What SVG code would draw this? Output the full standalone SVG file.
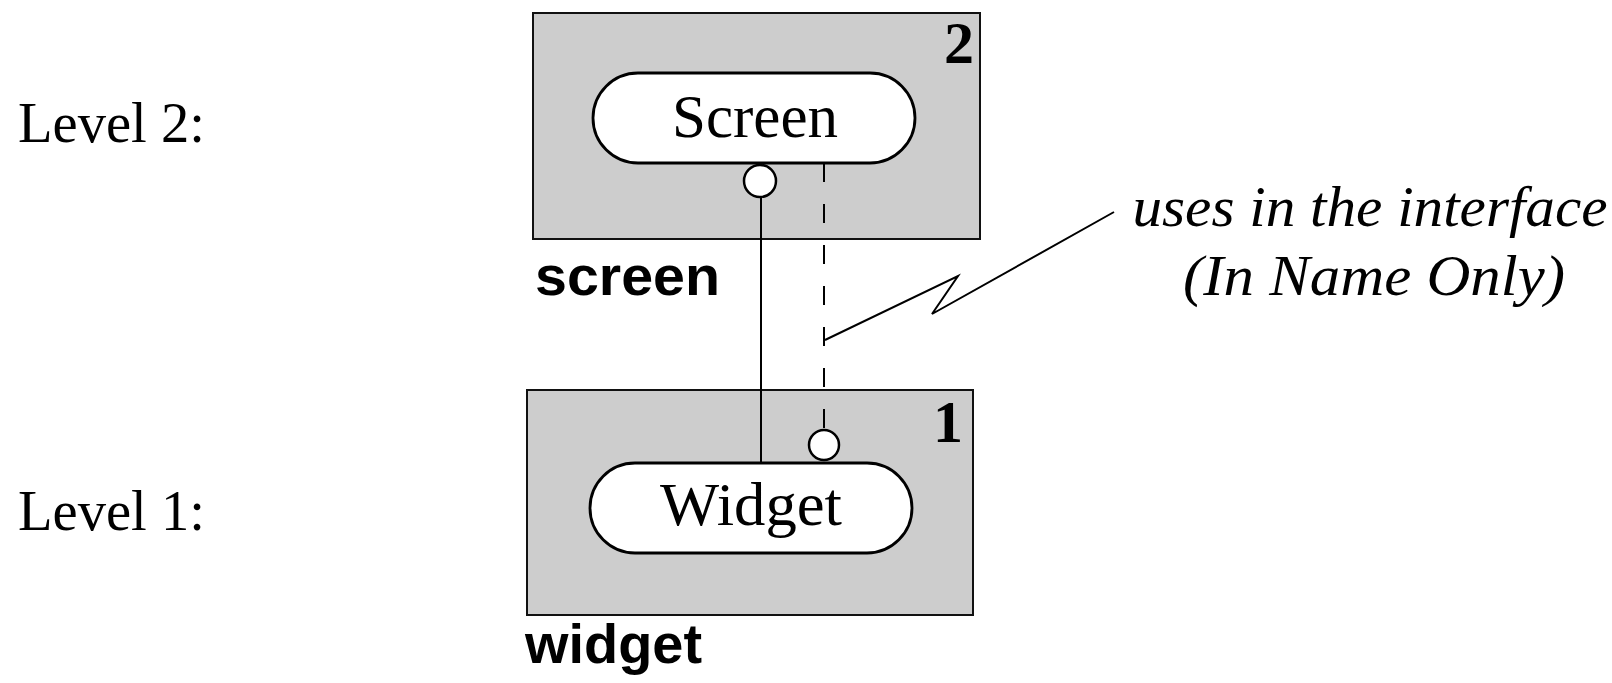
<svg xmlns="http://www.w3.org/2000/svg" width="1612" height="683" viewBox="0 0 1612 683">
<style>
.lvl{font-family:"Liberation Serif",serif;font-size:58px;fill:#000}
.box{fill:#cdcdcd;stroke:#111;stroke-width:2}
.pill{fill:#fff;stroke:#000;stroke-width:2.8}
.cls{font-family:"Liberation Serif",serif;font-size:62px;fill:#000}
.num{font-family:"Liberation Serif",serif;font-size:60px;font-weight:bold;fill:#000}
.pkg{font-family:"Liberation Sans",Arial,sans-serif;font-size:56px;font-weight:bold;fill:#000}
.note{font-family:"Liberation Serif",serif;font-style:italic;font-size:57px;fill:#000}
.ln{fill:none;stroke:#000;stroke-width:2}
.sock{fill:#fff;stroke:#000;stroke-width:2.5}
</style>
<rect width="1612" height="683" fill="#fff"/>
<text class="lvl" x="18" y="142" textLength="187" lengthAdjust="spacingAndGlyphs">Level 2:</text>
<text class="lvl" x="18" y="530" textLength="187" lengthAdjust="spacingAndGlyphs">Level 1:</text>
<g id="screen-pkg">
  <rect class="box" x="533" y="13" width="447" height="226"/>
  <text class="num" x="974" y="63" text-anchor="end">2</text>
  <text class="pkg" x="535" y="295" textLength="185" lengthAdjust="spacingAndGlyphs">screen</text>
</g>
<g id="widget-pkg">
  <rect class="box" x="527" y="390" width="446" height="225"/>
  <text class="num" x="963" y="442" text-anchor="end">1</text>
  <text class="pkg" x="525" y="663" textLength="177" lengthAdjust="spacingAndGlyphs">widget</text>
</g>
<g id="connectors">
  <line class="ln" x1="761" y1="196" x2="761" y2="463"/>
  <line class="ln" x1="824" y1="163" x2="824" y2="430" stroke-dasharray="19 22"/>
  <polyline class="ln" stroke-width="1.6" stroke-linejoin="miter" points="825,340 958,276 932,314 1114,212"/>
</g>
<g id="Screen">
  <rect class="pill" x="593" y="73" width="322" height="90" rx="45"/>
  <text class="cls" x="755" y="137" text-anchor="middle" textLength="166" lengthAdjust="spacingAndGlyphs">Screen</text>
  <circle class="sock" cx="760" cy="181" r="16"/>
</g>
<g id="Widget">
  <rect class="pill" x="590" y="463" width="322" height="90" rx="45"/>
  <text class="cls" x="751" y="525" text-anchor="middle" textLength="182" lengthAdjust="spacingAndGlyphs">Widget</text>
  <circle class="sock" cx="824" cy="445" r="15"/>
</g>
<g id="note">
  <text class="note" x="1370" y="226" text-anchor="middle" textLength="475" lengthAdjust="spacingAndGlyphs">uses in the interface</text>
  <text class="note" x="1374" y="295" text-anchor="middle" textLength="382" lengthAdjust="spacingAndGlyphs">(In Name Only)</text>
</g>
</svg>
